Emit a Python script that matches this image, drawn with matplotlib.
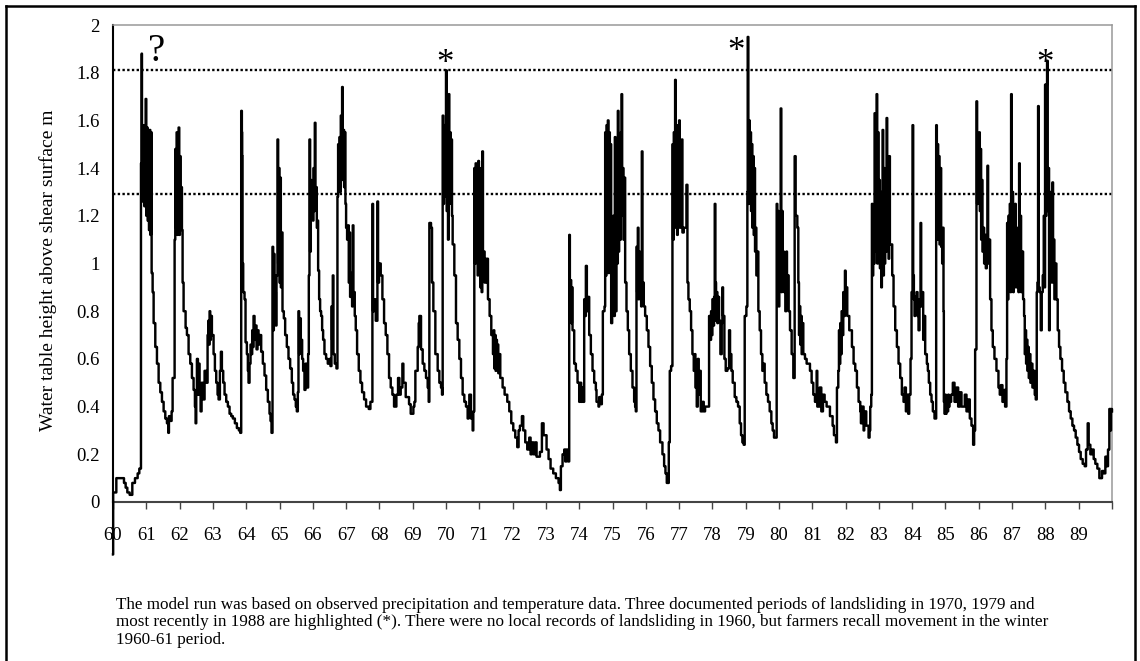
import numpy as np
import matplotlib
matplotlib.use("Agg")
import matplotlib.pyplot as plt
from matplotlib.lines import Line2D
from matplotlib.ticker import FuncFormatter

plt.rcParams['font.family'] = ['Liberation Serif', 'DejaVu Serif']

# modelled water table (year, height above shear surface in m)
run_1960s = [
    (60.00, -0.22), (60.005, 0.04), (60.10, 0.10), (60.33, 0.08), (60.38, 0.06), (60.43, 0.04),
    (60.50, 0.03), (60.58, 0.08), (60.66, 0.10), (60.74, 0.12), (60.79, 0.14),
    (60.84, 1.42), (60.85, 1.27), (60.86, 1.88), (60.87, 1.26), (60.88, 1.50), (60.90, 1.28),
    (60.92, 1.58), (60.94, 1.24), (60.96, 1.56), (60.98, 1.69), (61.00, 1.20), (61.02, 1.57),
    (61.04, 1.18), (61.06, 1.55), (61.08, 1.14), (61.10, 1.56), (61.12, 1.12), (61.14, 1.55),
    (61.16, 0.96), (61.19, 0.88), (61.22, 0.75), (61.27, 0.65), (61.32, 0.58), (61.37, 0.50),
    (61.42, 0.46), (61.47, 0.42), (61.52, 0.38), (61.57, 0.35), (61.62, 0.33), (61.66, 0.29),
    (61.68, 0.36), (61.72, 0.34), (61.76, 0.38), (61.79, 0.52),
    (61.85, 1.10), (61.87, 1.48), (61.89, 1.15), (61.91, 1.55), (61.93, 1.12), (61.95, 1.50),
    (61.97, 1.57), (61.99, 1.12), (62.01, 1.45), (62.03, 1.20), (62.05, 1.32), (62.07, 1.14),
    (62.09, 0.92), (62.12, 0.80), (62.18, 0.73), (62.22, 0.70), (62.27, 0.62), (62.32, 0.58),
    (62.37, 0.52), (62.42, 0.47), (62.46, 0.40), (62.48, 0.33), (62.50, 0.45), (62.52, 0.60),
    (62.55, 0.45), (62.57, 0.58), (62.60, 0.45), (62.63, 0.38), (62.66, 0.50), (62.70, 0.43),
    (62.75, 0.55), (62.80, 0.50), (62.84, 0.70), (62.86, 0.76), (62.88, 0.66), (62.90, 0.80),
    (62.92, 0.68), (62.94, 0.78), (62.97, 0.70), (63.02, 0.62), (63.06, 0.55), (63.10, 0.50),
    (63.14, 0.45), (63.17, 0.43), (63.21, 0.55), (63.24, 0.63), (63.27, 0.55), (63.31, 0.50),
    (63.35, 0.45), (63.40, 0.42), (63.45, 0.40), (63.50, 0.37), (63.55, 0.36), (63.60, 0.35),
    (63.66, 0.33), (63.72, 0.31), (63.78, 0.30), (63.82, 0.29),
    (63.85, 1.64), (63.87, 1.55), (63.88, 1.45), (63.89, 1.00), (63.91, 0.88), (63.95, 0.85),
    (63.98, 0.67), (64.02, 0.62), (64.05, 0.55), (64.07, 0.50), (64.10, 0.58), (64.13, 0.66),
    (64.16, 0.62), (64.18, 0.72), (64.20, 0.65), (64.22, 0.78), (64.25, 0.68), (64.28, 0.74),
    (64.31, 0.64), (64.34, 0.72), (64.37, 0.66), (64.40, 0.70), (64.45, 0.63), (64.50, 0.58),
    (64.55, 0.53), (64.60, 0.47), (64.65, 0.42), (64.70, 0.37), (64.73, 0.34), (64.76, 0.29),
    (64.79, 1.07), (64.81, 0.72), (64.83, 1.04), (64.85, 0.78), (64.87, 0.88), (64.89, 0.74),
    (64.91, 0.95), (64.94, 1.52), (64.96, 1.00), (64.98, 1.40), (65.00, 0.92), (65.02, 1.36),
    (65.04, 0.90), (65.06, 1.13), (65.09, 0.80), (65.13, 0.77), (65.17, 0.70), (65.22, 0.65),
    (65.27, 0.60), (65.32, 0.56), (65.37, 0.50), (65.41, 0.45), (65.45, 0.43), (65.49, 0.40),
    (65.52, 0.38), (65.55, 0.46), (65.57, 0.80), (65.59, 0.62), (65.61, 0.77), (65.64, 0.68),
    (65.68, 0.60), (65.71, 0.55), (65.75, 0.47), (65.78, 0.58), (65.82, 0.48), (65.86, 0.62),
    (65.88, 0.95), (65.90, 1.52), (65.92, 1.05), (65.94, 1.35), (65.96, 1.20), (65.98, 1.30),
    (66.00, 1.18), (66.02, 1.40), (66.04, 1.22), (66.06, 1.59), (66.08, 1.25), (66.10, 1.32),
    (66.12, 1.15), (66.14, 1.18), (66.16, 0.97), (66.19, 0.85), (66.22, 0.80), (66.25, 0.78),
    (66.28, 0.72), (66.31, 0.68), (66.35, 0.62), (66.40, 0.60), (66.45, 0.58), (66.50, 0.60),
    (66.53, 0.57), (66.56, 0.82), (66.58, 0.68), (66.60, 0.95), (66.62, 0.62), (66.66, 0.58),
    (66.71, 0.56),
    (66.74, 1.28), (66.76, 1.50), (66.78, 1.30), (66.80, 1.53), (66.82, 1.30), (66.84, 1.62),
    (66.86, 1.40), (66.88, 1.74), (66.90, 1.35), (66.92, 1.56), (66.94, 1.32), (66.96, 1.55),
    (66.98, 1.25), (67.00, 1.15), (67.03, 1.10), (67.06, 1.16), (67.08, 0.92), (67.10, 1.13),
    (67.12, 0.86), (67.15, 0.96), (67.18, 0.82), (67.20, 1.16), (67.22, 0.88), (67.26, 0.78),
    (67.29, 0.72), (67.33, 0.62), (67.38, 0.55), (67.43, 0.50), (67.48, 0.46), (67.54, 0.43),
    (67.60, 0.40), (67.68, 0.39), (67.73, 0.42),
    (67.79, 1.25), (67.81, 0.80), (67.84, 0.85), (67.89, 0.76), (67.94, 1.26), (67.96, 0.92),
    (67.99, 1.00), (68.04, 0.95), (68.09, 0.85), (68.14, 0.75), (68.19, 0.70), (68.24, 0.62),
    (68.29, 0.52), (68.34, 0.48), (68.39, 0.45), (68.44, 0.40), (68.51, 0.45), (68.56, 0.52),
    (68.60, 0.45), (68.64, 0.48), (68.69, 0.58), (68.72, 0.50), (68.79, 0.44), (68.89, 0.41),
    (68.94, 0.37), (69.02, 0.40), (69.05, 0.42), (69.08, 0.55), (69.15, 0.65), (69.18, 0.75),
    (69.20, 0.78), (69.25, 0.64), (69.30, 0.58), (69.35, 0.55), (69.40, 0.52), (69.45, 0.48),
    (69.48, 0.42), (69.50, 1.17), (69.55, 1.15), (69.58, 0.92), (69.62, 0.80), (69.68, 0.62),
    (69.75, 0.55), (69.80, 0.50), (69.85, 0.48), (69.88, 0.45),
    (69.90, 1.62), (69.92, 1.25), (69.94, 1.58), (69.96, 1.28), (69.98, 1.55),
]

run_1970s = [
    (70.00, 1.81), (70.02, 1.22), (70.04, 1.56), (70.06, 1.10), (70.08, 1.71), (70.10, 1.25),
    (70.12, 1.55), (70.14, 1.28), (70.16, 1.52), (70.18, 1.20), (70.20, 1.08), (70.25, 0.95),
    (70.30, 0.75), (70.35, 0.68), (70.40, 0.60), (70.45, 0.52), (70.50, 0.45), (70.55, 0.42),
    (70.60, 0.40), (70.65, 0.35), (70.68, 0.40), (70.70, 0.45), (70.75, 0.35), (70.80, 0.30),
    (70.82, 0.38),
    (70.85, 1.40), (70.87, 1.00), (70.89, 1.42), (70.91, 1.05), (70.93, 1.38), (70.95, 0.95),
    (70.97, 1.43), (70.99, 1.00), (71.01, 1.38), (71.03, 0.90), (71.05, 1.40), (71.07, 0.88),
    (71.09, 1.47), (71.11, 1.05), (71.16, 0.92), (71.21, 1.02), (71.26, 0.85), (71.31, 0.78),
    (71.36, 0.70), (71.41, 0.62), (71.43, 0.72), (71.45, 0.56), (71.47, 0.70), (71.49, 0.55),
    (71.51, 0.68), (71.53, 0.56), (71.55, 0.66), (71.57, 0.54), (71.60, 0.62), (71.63, 0.52),
    (71.70, 0.48), (71.76, 0.45), (71.84, 0.42), (71.90, 0.38), (71.96, 0.33), (72.02, 0.30),
    (72.08, 0.27), (72.14, 0.23), (72.18, 0.30), (72.22, 0.32), (72.28, 0.36), (72.32, 0.30),
    (72.38, 0.25), (72.44, 0.22), (72.50, 0.27), (72.54, 0.20), (72.58, 0.25), (72.63, 0.20),
    (72.68, 0.25), (72.72, 0.19), (72.82, 0.21), (72.88, 0.33), (72.93, 0.28), (73.02, 0.22),
    (73.08, 0.18), (73.14, 0.14), (73.22, 0.12), (73.30, 0.10), (73.38, 0.08), (73.42, 0.05),
    (73.45, 0.15), (73.50, 0.20), (73.55, 0.22), (73.58, 0.17), (73.62, 0.22), (73.67, 0.17),
    (73.70, 1.12), (73.72, 0.80), (73.74, 0.93), (73.76, 0.75), (73.78, 0.90), (73.80, 0.72),
    (73.85, 0.58), (73.90, 0.55), (73.95, 0.50), (74.00, 0.42), (74.03, 0.50), (74.06, 0.42),
    (74.09, 0.48), (74.12, 0.42), (74.15, 0.85), (74.18, 0.78), (74.20, 0.99), (74.23, 0.80),
    (74.26, 0.86), (74.30, 0.70), (74.35, 0.62), (74.40, 0.55), (74.45, 0.50), (74.50, 0.47),
    (74.52, 0.42), (74.58, 0.40), (74.60, 0.44), (74.65, 0.41), (74.68, 0.45),
    (74.71, 0.80), (74.76, 0.82), (74.78, 1.55), (74.80, 0.95), (74.82, 1.58), (74.84, 1.00),
    (74.86, 1.60), (74.88, 0.96), (74.90, 1.55), (74.92, 1.02), (74.94, 1.50), (74.96, 0.75),
    (74.99, 0.80), (75.02, 1.20), (75.05, 0.78), (75.07, 1.53), (75.09, 0.80), (75.12, 1.20),
    (75.14, 1.00), (75.16, 1.64), (75.18, 1.05), (75.20, 1.45), (75.22, 1.10), (75.25, 1.55),
    (75.27, 1.71), (75.29, 1.20), (75.31, 1.40), (75.33, 1.10), (75.36, 1.36), (75.38, 0.92),
    (75.42, 0.80), (75.46, 0.72), (75.50, 0.62), (75.55, 0.55), (75.60, 0.48), (75.65, 0.42),
    (75.68, 0.40), (75.70, 0.38),
    (75.72, 1.07), (75.74, 0.88), (75.76, 1.15), (75.78, 0.85), (75.80, 1.05), (75.82, 0.90),
    (75.84, 0.98), (75.86, 0.82), (75.88, 1.47), (75.90, 0.92), (75.94, 0.82), (75.98, 0.78),
    (76.03, 0.72), (76.08, 0.65), (76.13, 0.57), (76.18, 0.50), (76.23, 0.43), (76.28, 0.38),
    (76.33, 0.33), (76.38, 0.30), (76.43, 0.25), (76.50, 0.20), (76.55, 0.15), (76.59, 0.12),
    (76.63, 0.08), (76.69, 0.25), (76.72, 0.55), (76.76, 0.57),
    (76.80, 1.50), (76.82, 1.10), (76.84, 1.55), (76.86, 1.15), (76.88, 1.77), (76.90, 1.20),
    (76.92, 1.58), (76.94, 1.12), (76.96, 1.55), (76.98, 1.20), (77.00, 1.60), (77.02, 1.15),
    (77.04, 1.50), (77.06, 1.18), (77.08, 1.52), (77.10, 1.13), (77.14, 1.15), (77.22, 1.33),
    (77.25, 0.92), (77.28, 0.85), (77.32, 0.80), (77.36, 0.72), (77.40, 0.62), (77.44, 0.55),
    (77.47, 0.62), (77.49, 0.48), (77.53, 0.40), (77.56, 0.60), (77.59, 0.45), (77.62, 0.55),
    (77.65, 0.38), (77.70, 0.42), (77.74, 0.38), (77.78, 0.40),
    (77.90, 0.78), (77.93, 0.68), (77.96, 0.80), (77.98, 0.70), (78.00, 0.85), (78.03, 0.74),
    (78.05, 0.86), (78.07, 1.25), (78.09, 0.92), (78.11, 0.76), (78.13, 0.88), (78.15, 0.75),
    (78.17, 0.86), (78.20, 0.76), (78.24, 0.62), (78.28, 0.75), (78.30, 0.90), (78.32, 0.78),
    (78.36, 0.60), (78.40, 0.55), (78.45, 0.56), (78.50, 0.72), (78.53, 0.62), (78.57, 0.55),
    (78.61, 0.50), (78.67, 0.44), (78.72, 0.42), (78.77, 0.40), (78.82, 0.33), (78.86, 0.28),
    (78.90, 0.25), (78.94, 0.24),
    (78.97, 0.78), (79.02, 0.82), (79.05, 1.30), (79.06, 1.95), (79.08, 1.25), (79.10, 1.60),
    (79.12, 1.28), (79.14, 1.55), (79.16, 1.22), (79.18, 1.50), (79.20, 1.15), (79.22, 1.45),
    (79.24, 1.12), (79.26, 1.40), (79.28, 1.05), (79.30, 1.15), (79.32, 0.95), (79.35, 1.05),
    (79.38, 0.80), (79.42, 0.72), (79.46, 0.62), (79.50, 0.55), (79.54, 0.58), (79.57, 0.50),
    (79.62, 0.45), (79.67, 0.42), (79.72, 0.38), (79.77, 0.33), (79.81, 0.30), (79.85, 0.27),
]

run_1980s = [
    (79.93, 1.25), (79.95, 0.85), (79.97, 1.22), (79.99, 0.82), (80.01, 1.20), (80.03, 0.90),
    (80.05, 1.65), (80.07, 0.88), (80.09, 1.22), (80.11, 0.95), (80.13, 1.05), (80.15, 0.88),
    (80.17, 1.00), (80.19, 0.80), (80.22, 1.05), (80.24, 0.95), (80.29, 0.80), (80.33, 0.72),
    (80.38, 0.62), (80.43, 0.52), (80.47, 1.45), (80.50, 1.20), (80.55, 1.15), (80.58, 0.92),
    (80.60, 0.70), (80.62, 0.82), (80.64, 0.66), (80.66, 0.78), (80.68, 0.62), (80.70, 0.75),
    (80.73, 0.62), (80.78, 0.60), (80.83, 0.58), (80.93, 0.55), (80.98, 0.50), (81.03, 0.45),
    (81.08, 0.42), (81.13, 0.55), (81.15, 0.40), (81.22, 0.48), (81.27, 0.38), (81.32, 0.45),
    (81.37, 0.42), (81.43, 0.40), (81.53, 0.36), (81.61, 0.32), (81.65, 0.28), (81.71, 0.25),
    (81.74, 0.48), (81.78, 0.55), (81.80, 0.72), (81.82, 0.58), (81.84, 0.75), (81.86, 0.62),
    (81.88, 0.80), (81.90, 0.70), (81.93, 0.88), (81.95, 0.78), (81.98, 0.97), (82.00, 0.82),
    (82.03, 0.90), (82.05, 0.78), (82.11, 0.72), (82.19, 0.65), (82.24, 0.58), (82.29, 0.55),
    (82.34, 0.48), (82.39, 0.42), (82.44, 0.38), (82.46, 0.33), (82.49, 0.40), (82.54, 0.30),
    (82.56, 0.38), (82.62, 0.32), (82.69, 0.27), (82.72, 0.30), (82.74, 0.40), (82.77, 0.45),
    (82.79, 1.25), (82.81, 0.95), (82.83, 1.20), (82.85, 1.00), (82.87, 1.63), (82.89, 1.05),
    (82.91, 1.40), (82.93, 1.71), (82.95, 1.00), (82.97, 1.55), (82.99, 1.05), (83.01, 1.35),
    (83.03, 0.98), (83.05, 1.30), (83.07, 0.90), (83.09, 1.20), (83.11, 1.56), (83.13, 0.95),
    (83.15, 1.40), (83.17, 1.00), (83.19, 1.30), (83.21, 1.05), (83.23, 1.61), (83.25, 1.10),
    (83.27, 1.35), (83.29, 1.02), (83.31, 1.45), (83.33, 1.08), (83.36, 1.08), (83.40, 0.95),
    (83.44, 0.82), (83.49, 0.72), (83.54, 0.65), (83.59, 0.58), (83.64, 0.52), (83.69, 0.45),
    (83.74, 0.42), (83.77, 0.48), (83.81, 0.38), (83.84, 0.45), (83.88, 0.37), (83.91, 0.45),
    (83.95, 0.60), (83.98, 0.88), (84.01, 1.58), (84.03, 0.95), (84.05, 0.85), (84.07, 0.78),
    (84.09, 0.86), (84.11, 0.80), (84.13, 0.88), (84.16, 0.78), (84.19, 0.72), (84.22, 0.85),
    (84.25, 1.17), (84.27, 0.82), (84.30, 0.88), (84.33, 0.68), (84.36, 0.78), (84.39, 0.62),
    (84.44, 0.58), (84.47, 0.55), (84.50, 0.50), (84.54, 0.45), (84.58, 0.42), (84.62, 0.38),
    (84.67, 0.35),
    (84.72, 1.58), (84.74, 1.10), (84.76, 1.50), (84.78, 1.15), (84.80, 1.45), (84.82, 1.08),
    (84.85, 1.40), (84.87, 1.07), (84.90, 1.00), (84.92, 1.15), (84.94, 0.80), (84.95, 0.42),
    (84.97, 0.37), (84.99, 0.45), (85.01, 0.37), (85.03, 0.44), (85.05, 0.38), (85.08, 0.45),
    (85.10, 0.40), (85.12, 0.42), (85.17, 0.45), (85.22, 0.50), (85.27, 0.42), (85.33, 0.48),
    (85.38, 0.40), (85.43, 0.46), (85.48, 0.40), (85.58, 0.45), (85.63, 0.38), (85.68, 0.43),
    (85.73, 0.35), (85.78, 0.32), (85.83, 0.24), (85.86, 0.30),
    (85.89, 0.64), (85.93, 1.68), (85.95, 1.25), (85.97, 1.52), (85.99, 1.28), (86.01, 1.55),
    (86.03, 1.22), (86.05, 1.48), (86.07, 1.10), (86.09, 1.35), (86.11, 1.05), (86.14, 1.15),
    (86.16, 1.00), (86.18, 1.12), (86.21, 0.98), (86.24, 1.10), (86.26, 1.41), (86.28, 1.00),
    (86.31, 1.10), (86.34, 0.85), (86.38, 0.72), (86.42, 0.65), (86.47, 0.60), (86.53, 0.55),
    (86.59, 0.48), (86.63, 0.45), (86.66, 0.49), (86.71, 0.42), (86.76, 0.47), (86.79, 0.40),
    (86.83, 0.60), (86.85, 1.17), (86.87, 0.85), (86.89, 1.20), (86.91, 0.90), (86.93, 1.25),
    (86.95, 0.88), (86.97, 1.71), (86.99, 0.95), (87.01, 1.30), (87.03, 0.88), (87.05, 1.20),
    (87.07, 0.92), (87.09, 1.25), (87.11, 0.90), (87.13, 1.15), (87.15, 0.95), (87.17, 1.10),
    (87.19, 0.88), (87.21, 1.42), (87.23, 0.92), (87.25, 1.20), (87.27, 0.88), (87.30, 1.05),
    (87.33, 0.85), (87.36, 0.78), (87.38, 0.62), (87.40, 0.72), (87.42, 0.58), (87.44, 0.68),
    (87.46, 0.55), (87.48, 0.65), (87.50, 0.52), (87.53, 0.62), (87.55, 0.50), (87.58, 0.58),
    (87.61, 0.48), (87.64, 0.55), (87.68, 0.45), (87.71, 0.43),
    (87.74, 0.88), (87.76, 0.92), (87.78, 1.66), (87.80, 0.90), (87.83, 0.88), (87.86, 0.72),
    (87.89, 0.88), (87.92, 0.95), (87.95, 1.20), (87.97, 0.90), (87.99, 1.75), (88.01, 1.20),
    (88.03, 1.75), (88.05, 1.85), (88.07, 1.22), (88.09, 1.40), (88.11, 0.72), (88.13, 1.30),
    (88.15, 0.95), (88.17, 1.25), (88.19, 0.92), (88.21, 1.34), (88.23, 0.95), (88.25, 1.10),
    (88.27, 0.85), (88.30, 1.00), (88.33, 0.85), (88.37, 0.72), (88.41, 0.65), (88.45, 0.60),
    (88.50, 0.55), (88.55, 0.50), (88.60, 0.46), (88.66, 0.42), (88.71, 0.38), (88.76, 0.35),
    (88.81, 0.32), (88.86, 0.30), (88.91, 0.27), (88.96, 0.24), (89.01, 0.21), (89.06, 0.18),
    (89.12, 0.16), (89.18, 0.15), (89.22, 0.22), (89.27, 0.33), (89.30, 0.24), (89.35, 0.20),
    (89.40, 0.22), (89.45, 0.18), (89.50, 0.16), (89.56, 0.14), (89.62, 0.10), (89.70, 0.13),
    (89.75, 0.12), (89.80, 0.19), (89.84, 0.15), (89.88, 0.22), (89.92, 0.39), (89.95, 0.30),
    (89.97, 0.39), (90.00, 0.38),
]

thresholds = [1.81, 1.29]

# flagged winters: (year, height, symbol)
flags = [(61.32, 1.89, '?'), (69.97, 1.835, '*'), (78.71, 1.885, '*'), (87.99, 1.835, '*')]

year_ticks = list(range(60, 91))
year_labels = [str(y) for y in range(60, 90)] + ['']
height_ticks = [0, 0.2, 0.4, 0.6, 0.8, 1.0, 1.2, 1.4, 1.6, 1.8, 2.0]

caption = [
    "The model run was based on observed precipitation and temperature data. Three documented periods of landsliding in 1970, 1979 and",
    "most recently in 1988 are highlighted (*). There were no local records of landsliding in 1960, but farmers recall movement in the winter",
    "1960-61 period.",
]

W, H = 1140, 661
fig = plt.figure(figsize=(W / 100, H / 100), dpi=100)
ax = fig.add_axes([113 / W, 1 - 502 / H, (1112 - 113) / W, (502 - 25) / H])

t, h = zip(*(run_1960s + run_1970s + run_1980s))
ax.plot(t, h, drawstyle='steps-post', color='black', lw=1.75, clip_on=False, zorder=3)

for lvl in thresholds:
    ax.axhline(lvl, color='black', lw=1.7, ls=(0, (1, 1)), zorder=2)

ax.set_xlim(60, 90)
ax.set_ylim(0, 2)
ax.set_xticks(year_ticks)
ax.set_xticklabels(year_labels)
ax.set_yticks(height_ticks)
ax.yaxis.set_major_formatter(FuncFormatter(lambda v, p: '%g' % v))
ax.tick_params(axis='x', direction='out', length=5, width=1, color='#444444', pad=13, labelsize=13.5)
ax.tick_params(axis='y', length=0, pad=9.5, labelsize=13.5)

ax.spines['left'].set_color('black')
ax.spines['left'].set_linewidth(1.5)
ax.spines['bottom'].set_color('#444444')
ax.spines['bottom'].set_linewidth(1.5)
for side in ('top', 'right'):
    ax.spines[side].set_color('#999999')
    ax.spines[side].set_linewidth(1.1)

for x, y, s in flags:
    size = 28 if s == '?' else 25
    ax.text(x, y, s, fontsize=size, ha='center', va='center', zorder=4)

fig.text(48 / W, 1 - 270 / H, 'Water table height above shear surface m',
         rotation=90, ha='center', va='center', fontsize=14)

for i, line in enumerate(caption):
    fig.text(116 / W, 1 - (605 + 17.5 * i) / H, line, ha='left', va='center', fontsize=12.3)

# outer box, open at the bottom
box = dict(color='black', lw=1.8, transform=fig.transFigure)
fig.add_artist(Line2D([6 / W, 6 / W], [0, 1 - 6 / H], **box))
fig.add_artist(Line2D([6 / W, 1135 / W], [1 - 6 / H, 1 - 6 / H], **box))
fig.add_artist(Line2D([1135 / W, 1135 / W], [1 - 6 / H, 0], **box))

fig.savefig('out.png', dpi=100, facecolor='white')
